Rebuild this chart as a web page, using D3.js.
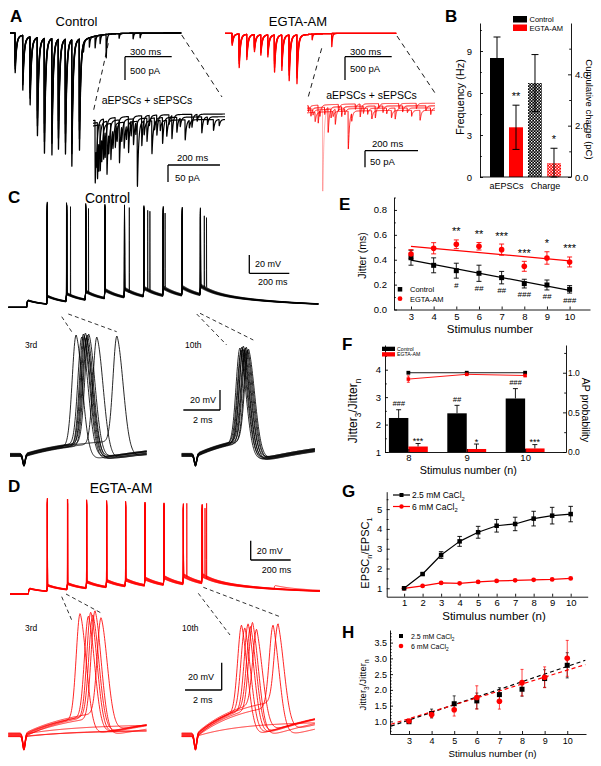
<!DOCTYPE html>
<html>
<head>
<meta charset="utf-8">
<script src="https://cdn.jsdelivr.net/npm/d3@7/dist/d3.min.js"></script>
<style>
html,body{margin:0;padding:0;background:#fff;}
svg{display:block;}
</style>
</head>
<body>
<script>
// ======================= DATA =======================
// ---- Panel A : evoked EPSC trains (stimulus times in ms, peak amplitudes in pA)
const aCtrlStimMs = [32, 81, 128, 175, 220, 268, 310, 355, 396, 445];
const aCtrlAmpPa  = [829, 1150, 1435, 2077, 2435, 2469, 2328, 2435, 2683, 2355];
const aEgtaStimMs = [45, 90, 139, 188, 229, 274, 317, 364, 411, 461];
const aEgtaAmpPa  = [250, 715, 535, 358, 428, 465, 785, 750, 970, 1036];
const aCtrlSweepGain = [1.0, 0.9, 0.82, 0.74];
const aEgtaSweepGain = [1.0, 0.88, 0.78, 0.7];
const aCtrlAsync = [[471,150],[509,200],[546,250],[578,180],[617,500],[700,100],[790,120],[835,100]];
const aEgtaAsync = [[559,120],[685,280]];
// insets: [time ms, amplitude pA]
const aCtrlInsetEvents = [[7.7,185],[16.5,165],[27,135],[40,118],[53,156],[68,106],[85,88],[101,126],
  [119,76],[136,106],[155,76],[170,191],[187,88],[207,68],[226,97],[245,59],[267,76],[283,47],
  [303,68],[322,44],[354,59],[380,38],[418,47],[463,32]];
const aCtrlInsetSmall = [[12,60],[22,90],[33,70],[46,80],[60,60],[76,55],[92,50],[110,45],[128,40],
  [146,45],[164,35],[196,40],[216,30],[236,35],[258,30],[292,28],[335,25],[370,22],[400,20],[440,22],[485,18]];
const aEgtaInsetEvents = [[41.5,54],[79,75],[106,45],[155,114],[200,39],[257,36],[332,33],[426,30]];
const aEgtaInsetFaint = [[58.5,249]];
const aEgtaInsetSmall = [[5,18],[14,25],[22,15],[30,28],[48,20],[66,22],[90,26],[98,15],[118,20],[130,30],
  [142,18],[168,24],[182,16],[212,22],[228,18],[244,25],[270,14],[286,20],[300,17],[318,22],[346,15],
  [360,19],[378,14],[394,18],[412,16],[448,15],[466,20]];
const aCtrlInsetOffsetPa = [8, 0, -8];
const aEgtaInsetOffsetPa = [10, 3, -4, -11];

// ---- Panel B
const bGroups = ["aEPSCs", "Charge"];
const bConditions = ["Control", "EGTA-AM"];
const bFreqHz = [8.5, 3.55];
const bFreqErr = [1.5, 1.58];
const bChargePc = [3.66, 0.54];
const bChargeErr = [1.11, 0.58];
const bSig = [["", "**"], ["", "*"]];
const bFreqTicks = [0, 3, 6, 9];
const bFreqMinor = [1.5, 4.5, 7.5, 10.5];
const bChargeTicks = [0, 2, 4];
const bChargeMinor = [1, 3, 5];

// ---- Panel C / D : current-clamp trains (ms, mV above rest)
const cStimMs = [92, 192, 288, 384, 480, 578, 675, 772, 867, 958];
const cEpspMv = [8, 9, 9, 9.5, 9.5, 9.5, 9.5, 9, 9, 10];
const cSweepGain = [1.00, 0.94, 1.06, 0.97, 1.03, 0.91, 1.09, 0.99, 1.02, 0.96];
const cSpikePeakMv = [116, 112, 109, 114, 106, 115, 104, 111, 108, 113];
const cDoublets = [[0,2,23],[3,3,17],[5,5,27],[1,6,22],[7,6,33],[2,7,12],[4,9,22],[6,9,33]];
const cFails = [];
const c3rdLatMs = [2.96, 3.27, 3.36, 3.41, 3.47, 3.52, 3.57, 3.65, 4.09, 5.18];
const c10thLatMs = [2.55, 2.62, 2.66, 2.72, 2.74, 2.81, 2.85, 2.90, 2.97, 3.02];
const cInsetBaseMv = [0, 1.2, -1, 0.6, -0.6, 1.6, -1.5, 0.9, -0.9, 0.3];
const c3rdEpspMv = [17, 17, 17, 17, 17, 17, 17, 17, 17, 17];
const c10thEpspMv = [22, 22, 22, 22, 22, 22, 22, 22, 22, 22];

const dStimMs = [92, 184, 284, 380, 480, 575, 672, 767, 864, 958];
const dEpspMv = [6, 6.5, 6.5, 7, 7, 7, 7.5, 8, 9, 8];
const dSweepGain = [1.0, 0.92, 1.08, 0.95, 1.05, 0.9, 1.1, 0.97, 1.03];
const dSpikePeakMv = [100, 97, 95, 99, 96, 100, 94, 98, 96];
const dDoublets = [[0,8,20],[2,9,17],[5,9,25]];
const dFails = [[6,2],[7,2],[8,2],[8,9]];
const dSpont = [[3, 1320, 4]];
const d3rdLatMs = [3.18, 3.63, 3.76, 3.87, 3.99, 4.32, null, null, null];
const d10thLatMs = [2.64, 2.82, 3.00, 3.13, 3.24, 3.46, 4.36, 4.63, null];
const dInsetBaseMv = [0, 1, -1, 0.5, -0.5, 1.5, -1.2, 0.8, -0.8];
const d3rdEpspMv = [20, 19, 21, 20, 18, 20, 5, 7, 4];
const d10thEpspMv = [30, 29, 31, 30, 28, 30, 27, 29, 10.5];
const insetPeakJitMv = [0, -2, 1, -1, 2, -3, 0, 1, -2, -1];

// ---- Panel E
const eStimulus = [3, 4, 5, 6, 7, 8, 9, 10];
const eJitCtrl = [0.416, 0.355, 0.312, 0.291, 0.256, 0.208, 0.197, 0.162];
const eJitCtrlErr = [0.06, 0.06, 0.06, 0.065, 0.05, 0.035, 0.04, 0.03];
const eJitEgta = [0.446, 0.492, 0.524, 0.508, 0.481, 0.347, 0.414, 0.382];
const eJitEgtaErr = [0.035, 0.045, 0.035, 0.03, 0.045, 0.04, 0.05, 0.04];
const eStars = ["", "", "**", "**", "***", "***", "*", "***"];
const eHashes = ["", "", "#", "##", "##", "###", "##", "###"];
const eYTicks = [0, 0.2, 0.4, 0.6, 0.8];
const eYMinor = [0.1, 0.3, 0.5, 0.7, 0.9];

// ---- Panel F
const fStimulus = [8, 9, 10];
const fRatioCtrl = [2.24, 2.41, 2.95];
const fRatioCtrlErr = [0.30, 0.29, 0.36];
const fRatioEgta = [1.20, 1.11, 1.13];
const fRatioEgtaErr = [0.11, 0.18, 0.14];
const fCtrlSig = ["###", "##", "###"];
const fEgtaSig = ["***", "*", "***"];
const fApCtrl = [1.0, 1.0, 1.0];
const fApEgta = [0.92, 0.98, 0.965];
const fApEgtaErr = [0.04, 0.01, 0.015];
const fYTicks = [1, 2, 3, 4];
const fYMinor = [1.5, 2.5, 3.5, 4.5];
const fY2Ticks = [0, 0.5, 1.0];
const fY2Minor = [0.25, 0.75, 1.25];

// ---- Panel G
const gStimulus = [1, 2, 3, 4, 5, 6, 7, 8, 9, 10];
const gLowCa = [1.0, 1.72, 2.68, 3.37, 3.83, 4.16, 4.25, 4.52, 4.67, 4.75];
const gLowCaErr = [0, 0.05, 0.17, 0.25, 0.3, 0.32, 0.34, 0.37, 0.42, 0.39];
const gHighCa = [1.0, 1.12, 1.27, 1.25, 1.32, 1.37, 1.40, 1.43, 1.45, 1.50];
const gHighCaErr = [0, 0.02, 0.03, 0.03, 0.03, 0.03, 0.03, 0.03, 0.03, 0.04];
const gYTicks = [1, 2, 3, 4, 5];
const gYMinor = [1.5, 2.5, 3.5, 4.5, 5.5];

// ---- Panel H
const hStimulus = [3, 4, 5, 6, 7, 8, 9, 10];
const hLowCa = [0.99, 1.25, 1.56, 1.65, 1.85, 2.02, 2.36, 2.78];
const hLowCaErr = [0.03, 0.14, 0.25, 0.25, 0.22, 0.22, 0.28, 0.4];
const hHighCa = [1.01, 1.22, 1.37, 1.76, 1.64, 2.23, 2.40, 3.0];
const hHighCaErr = [0.03, 0.1, 0.2, 0.37, 0.25, 0.42, 0.33, 0.57];
const hFitSlope = [0.243, 0.22];       // [2.5 mM, 6 mM]
const hFitIntercept = [0.315, 0.426];
const hYTicks = [1.0, 1.5, 2.0, 2.5, 3.0, 3.5];
const hYMinor = [0.7,0.8,0.9,1.1,1.2,1.3,1.4,1.6,1.7,1.8,1.9,2.1,2.2,2.3,2.4,2.6,2.7,2.8,2.9,3.1,3.2,3.3,3.4,3.6,3.7,3.8];

// ======================= SETUP =======================
const FONT = "Arial, 'Liberation Sans', Helvetica, sans-serif";
const RED = "#ff0000";
const svg = d3.select("body").append("svg").attr("width", 601).attr("height", 766)
  .attr("font-family", FONT);
const defs = svg.append("defs");
const lineGen = d3.line();
const fmtInt = d3.format("d");

function addText(x, y, s, fs, o = {}) {
  const t = svg.append("text").attr("x", x).attr("y", y).attr("font-size", fs).text(s);
  if (o.anchor) t.attr("text-anchor", o.anchor);
  if (o.weight) t.attr("font-weight", o.weight);
  if (o.style) t.attr("font-style", o.style);
  if (o.rotate) t.attr("transform", `rotate(${o.rotate},${x},${y})`);
  t.attr("fill", o.fill || "#000");
  return t;
}
function rich(x, y, parts, fs, o = {}) {
  const t = svg.append("text").attr("x", x).attr("y", y).attr("font-size", fs)
    .attr("text-anchor", o.anchor || "start").attr("fill", "#000");
  if (o.rotate) t.attr("transform", `rotate(${o.rotate},${x},${y})`);
  let prev = false;
  parts.forEach(([s, sub]) => {
    const sp = t.append("tspan").text(s);
    if (sub) sp.attr("font-size", fs * 0.68);
    if (sub && !prev) sp.attr("dy", fs * 0.3);
    if (!sub && prev) sp.attr("dy", -fs * 0.3);
    prev = sub;
  });
  return t;
}
function seg(x1, y1, x2, y2, color = "#000", w = 1, dash = null, op = 1) {
  const l = svg.append("line").attr("x1", x1).attr("y1", y1).attr("x2", x2).attr("y2", y2)
    .attr("stroke", color).attr("stroke-width", w).attr("opacity", op);
  if (dash) l.attr("stroke-dasharray", dash);
  return l;
}
function drawAxis(gen, transform, fs) {
  const g = svg.append("g").attr("transform", transform).call(gen);
  g.attr("font-family", FONT);
  g.selectAll("text").attr("font-size", fs).attr("fill", "#000");
  g.selectAll("line,path").attr("stroke", "#000").attr("stroke-width", 0.9);
  return g;
}
function drawMinor(gen, transform) {
  const g = svg.append("g").attr("transform", transform).call(gen.tickFormat(() => ""));
  g.select(".domain").remove();
  g.selectAll("line").attr("stroke", "#000").attr("stroke-width", 0.9);
}
function errBar(cx, yLo, yHi, cap, color = "#000", w = 0.9, op = 1) {
  seg(cx, yLo, cx, yHi, color, w, null, op);
  seg(cx - cap / 2, yHi, cx + cap / 2, yHi, color, w, null, op);
  seg(cx - cap / 2, yLo, cx + cap / 2, yLo, color, w, null, op);
}
function square(cx, cy, s, color) {
  svg.append("rect").attr("x", cx - s / 2).attr("y", cy - s / 2).attr("width", s).attr("height", s).attr("fill", color);
}
function circle(cx, cy, r, color) {
  svg.append("circle").attr("cx", cx).attr("cy", cy).attr("r", r).attr("fill", color);
}
function tracePath(pts, color, w, op = 1) {
  svg.append("path").attr("d", lineGen(pts)).attr("fill", "none").attr("stroke", color)
    .attr("stroke-width", w).attr("stroke-linejoin", "round").attr("opacity", op);
}
function linReg(xs, ys) {
  const mx = d3.mean(xs), my = d3.mean(ys);
  let sxy = 0, sxx = 0;
  xs.forEach((x, i) => { sxy += (x - mx) * (ys[i] - my); sxx += (x - mx) ** 2; });
  const b = sxy / sxx;
  return { b, a: my - b * mx };
}
function biexp(tr, td) {
  const tp = tr * td / (td - tr) * Math.log(td / tr);
  const pk = Math.exp(-tp / td) - Math.exp(-tp / tr);
  return s => (s <= 0 ? 0 : (Math.exp(-s / td) - Math.exp(-s / tr)) / pk);
}
const kFast = biexp(0.4, 8), kSlow = biexp(4, 90), kSp = biexp(0.35, 4.5);
function apG(s) { return s < 0 ? Math.exp(-((s / 0.3) ** 2)) : Math.exp(-((s / 0.5) ** 2)); }
function epspK(s) { return s <= 0 ? 0 : (1 - Math.exp(-s / 2)) * (0.6 * Math.exp(-s / 70) + 0.4 * Math.exp(-s / 400)); }

// ======================= PANEL A =======================
addText(10, 22, "A", 17, { weight: "bold" });
addText(76.5, 26.3, "Control", 13, { anchor: "middle" });
addText(298, 26.3, "EGTA-AM", 13, { anchor: "middle" });

const aTimes = d3.range(0, 1100.001, 0.25);
function aMainI(t, stims, amps, gain, slowAmp, asyncEv) {
  let I = 0;
  for (let i = 0; i < stims.length; i++) {
    const s = t - stims[i];
    if (s > 0) I -= amps[i] * gain * kFast(s) + slowAmp * kSlow(s);
  }
  for (const ev of asyncEv) { const s = t - ev[0]; if (s > 0 && s < 80) I -= ev[1] * kSp(s); }
  return I;
}
function drawATrain(stims, amps, gains, slowAmp, asyncEv, xs, ys, color) {
  gains.forEach((g, sw) => {
    const ev = asyncEv.filter((e, i) => i % gains.length === sw);
    tracePath(aTimes.map(t => [xs(t), ys(aMainI(t, stims, amps, g, slowAmp, ev))]), color, 1.3);
  });
}
const xAc = d3.scaleLinear().domain([0, 1100]).range([10, 10 + 1100 * 0.1557]);
const yAc = d3.scaleLinear().domain([0, -3000]).range([33, 33 + 3000 * 0.0467]);
drawATrain(aCtrlStimMs, aCtrlAmpPa, aCtrlSweepGain, 70, aCtrlAsync, xAc, yAc, "#000");
const xAe = d3.scaleLinear().domain([0, 1100]).range([225, 225 + 1100 * 0.1557]);
const yAe = d3.scaleLinear().domain([0, -3000]).range([33.3, 33.3 + 3000 * 0.0467]);
drawATrain(aEgtaStimMs, aEgtaAmpPa, aEgtaSweepGain, 20, aEgtaAsync, xAe, yAe, RED);

function insetI(t, events, offset, residual) {
  let I = offset - residual * Math.exp(-t / 150);
  for (const ev of events) { const s = t - ev[0]; if (s > 0 && s < 60) I -= ev[1] * kSp(s); }
  return I;
}
const xAci = d3.scaleLinear().domain([0, 508]).range([93, 225]);
const yAci = d3.scaleLinear().domain([0, -200]).range([116.5, 184.5]);
const tAci = d3.range(0, 508.001, 0.25);
aCtrlInsetOffsetPa.forEach((off, sw) => {
  const ev = aCtrlInsetEvents.filter((e, i) => i % 3 === sw).concat(aCtrlInsetSmall.filter((e, i) => i % 3 === sw));
  tracePath(tAci.map(t => [xAci(t), yAci(insetI(t, ev, off, 20))]), "#000", 1.2);
});
const xAei = d3.scaleLinear().domain([0, 483]).range([307, 435]);
const yAei = d3.scaleLinear().domain([0, -200]).range([106.5, 173.1]);
const tAei = d3.range(0, 483.001, 0.25);
tracePath(tAei.map(t => [xAei(t), yAei(insetI(t, aEgtaInsetFaint, 0, 8))]), RED, 0.9, 0.35);
aEgtaInsetOffsetPa.forEach((off, sw) => {
  const ev = aEgtaInsetEvents.filter((e, i) => i % 4 === sw).concat(aEgtaInsetSmall.filter((e, i) => i % 4 === sw));
  tracePath(tAei.map(t => [xAei(t), yAei(insetI(t, ev, off, 8))]), RED, 1.0, 0.9);
});

// A annotations
addText(147, 103.5, "aEPSCs + sEPSCs", 10.5, { anchor: "middle" });
addText(371.5, 98.5, "aEPSCs + sEPSCs", 10.5, { anchor: "middle" });
function scaleBar(x0, y0, lenX, lenY, tX, tY, labX, labY, fs) {
  seg(x0, y0, x0 + lenX, y0, "#000", 1.3);
  seg(x0, y0, x0, y0 + lenY, "#000", 1.3);
  addText(labX[0], labX[1], tX, fs);
  addText(labY[0], labY[1], tY, fs);
}
scaleBar(125, 56.7, xAc(300) - xAc(0), yAc(-500) - yAc(0), "300 ms", "500 pA", [130, 55], [130, 73.5], 9.5);
scaleBar(345, 56.7, xAe(300) - xAe(0), yAe(-500) - yAe(0), "300 ms", "500 pA", [350, 55], [350, 71.5], 9.5);
scaleBar(168, 165, xAci(200) - xAci(0), yAci(-50) - yAci(0), "200 ms", "50 pA", [177, 161], [175, 180.5], 9.5);
scaleBar(365, 150.7, xAei(200) - xAei(0), yAei(-50) - yAei(0), "200 ms", "50 pA", [372, 146.5], [370, 165], 9.5);
const aConnectors = [[108.3, 43.3, 93.3, 111.7], [181.7, 35, 222, 97], [321.7, 48.3, 308.3, 96.7], [397, 36, 435, 93]];
aConnectors.forEach(c => seg(c[0], c[1], c[2], c[3], "#000", 0.9, "5,4"));

// ======================= PANEL B =======================
addText(445, 22.3, "B", 17, { weight: "bold" });
function checker(id, bg) {
  const p = defs.append("pattern").attr("id", id).attr("width", 3).attr("height", 3).attr("patternUnits", "userSpaceOnUse");
  p.append("rect").attr("width", 3).attr("height", 3).attr("fill", bg);
  p.append("rect").attr("x", 0).attr("y", 0).attr("width", 1.3).attr("height", 1.3).attr("fill", "#fff");
  p.append("rect").attr("x", 1.5).attr("y", 1.5).attr("width", 1.3).attr("height", 1.3).attr("fill", "#fff");
}
checker("chkK", "#000");
checker("chkR", RED);
const bYf = d3.scaleLinear().domain([0, 11]).range([177, 23]);
const bYc = d3.scaleLinear().domain([0, 6]).range([177, 23]);
const bKeys = bGroups.flatMap(g => bConditions.map(c => g + "|" + c));
const bX = d3.scaleBand().domain(bKeys).range([490, 561]).paddingInner(0.263);
const bBars = [];
bGroups.forEach((g, gi) => bConditions.forEach((c, ci) => {
  bBars.push({ key: g + "|" + c, gi, ci,
    val: gi === 0 ? bFreqHz[ci] : bChargePc[ci],
    err: gi === 0 ? bFreqErr[ci] : bChargeErr[ci],
    y: gi === 0 ? bYf : bYc, sig: bSig[gi][ci] });
}));
bBars.forEach(d => {
  const fill = d.gi === 0 ? (d.ci === 0 ? "#000" : RED) : (d.ci === 0 ? "url(#chkK)" : "url(#chkR)");
  svg.append("rect").attr("x", bX(d.key)).attr("width", bX.bandwidth())
    .attr("y", d.y(d.val)).attr("height", d.y(0) - d.y(d.val)).attr("fill", fill);
});
bBars.forEach(d => {
  const cx = bX(d.key) + bX.bandwidth() / 2;
  const yHi = d.y(d.val + d.err), yLo = d.y(Math.max(0, d.val - d.err));
  errBar(cx, yLo, yHi, 7, "#000", 1);
  if (d.sig) addText(cx, yHi - 5, d.sig, 11, { anchor: "middle" });
});
bGroups.forEach((g, gi) => {
  const c0 = bX(g + "|" + bConditions[0]), c1 = bX(g + "|" + bConditions[1]) + bX.bandwidth();
  addText((c0 + c1) / 2 + (gi ? 1 : 0), 188.5, g, 9, { anchor: "middle" });
});
drawAxis(d3.axisLeft(bYf).tickValues(bFreqTicks).tickSize(-3).tickSizeOuter(0).tickPadding(8), "translate(480,0)", 9.5);
drawMinor(d3.axisLeft(bYf).tickValues(bFreqMinor).tickSize(-1.8), "translate(480,0)");
drawAxis(d3.axisRight(bYc).tickValues(bChargeTicks).tickSize(-3).tickSizeOuter(0).tickPadding(4), "translate(571,0)", 9.5);
drawMinor(d3.axisRight(bYc).tickValues(bChargeMinor).tickSize(-1.8), "translate(571,0)");
seg(480, 177, 571, 177, "#000", 0.9);
addText(464, 97, "Frequency (Hz)", 11, { anchor: "middle", rotate: -90 });
addText(585.7, 109.5, "Cumulative charge (pC)", 9.5, { anchor: "middle", rotate: 90 });
svg.append("rect").attr("x", 513).attr("y", 16).attr("width", 14).attr("height", 6.5).attr("fill", "#000");
svg.append("rect").attr("x", 513).attr("y", 24.5).attr("width", 14).attr("height", 6.5).attr("fill", RED);
addText(529.5, 22, bConditions[0], 7.5);
addText(529.5, 30.5, bConditions[1], 7.5);

// ======================= PANELS C & D (traces) =======================
function buildSpikes(stims, nSw, firstSpike, latFn, peaks, doublets, fails) {
  const out = [];
  for (let sw = 0; sw < nSw; sw++) {
    const arr = [];
    stims.forEach((st, i) => {
      if (i < firstSpike) return;
      if (fails.some(f => f[0] === sw && f[1] === i)) return;
      arr.push([st + latFn(sw, i), peaks[sw] - i * 0.8]);
    });
    doublets.filter(d => d[0] === sw).forEach(d => arr.push([stims[d[1]] + d[2], peaks[sw] - 6]));
    out.push(arr);
  }
  return out;
}
function mainTimes(stims, spikes, tEnd) {
  const ts = d3.range(0, tEnd + 0.001, 2);
  stims.forEach(s => [0.3, 0.7, 1.2, 2, 3, 4.5, 7, 10].forEach(o => ts.push(s + o)));
  spikes.forEach(sp => [-1, -0.6, -0.35, -0.15, 0, 0.15, 0.35, 0.6, 0.9, 1.3, 2].forEach(o => ts.push(sp[0] + o)));
  return Array.from(new Set(ts.map(t => +t.toFixed(3)))).filter(t => t >= 0 && t <= tEnd).sort((a, b) => a - b);
}
function mainV(t, stims, amps, gain, spikes, spont) {
  let v = 0;
  for (let i = 0; i < stims.length; i++) v += amps[i] * gain * epspK(t - stims[i]);
  for (const sp of spont) v += sp[1] * epspK(t - sp[0]);
  const sub = v;
  for (const sp of spikes) { const s = t - sp[0]; if (s > -2 && s < 4) v += (sp[1] - sub) * apG(s); }
  return v;
}
function drawMain(stims, amps, gains, peaks, firstSpike, latFn, doublets, fails, spontAll, xs, ys, color) {
  const spikes = buildSpikes(stims, gains.length, firstSpike, latFn, peaks, doublets, fails);
  gains.forEach((g, sw) => {
    const spont = spontAll.filter(s => s[0] === sw).map(s => [s[1], s[2]]);
    const ts = mainTimes(stims, spikes[sw], 1550);
    tracePath(ts.map(t => [xs(t), ys(mainV(t, stims, amps, g, spikes[sw], spont))]), color, 0.8);
  });
}
function insetV(t, p, sw) {
  const base = p.base[sw];
  const art = -10 * Math.exp(-(((t - 0.12) / 0.09) ** 2));
  const ep = t > 0.2 ? p.epsp[sw] * (1 - Math.exp(-(t - 0.2) / p.tau)) : 0;
  let v = base + art + ep;
  const lat = p.lat[sw];
  if (lat != null) {
    const s = t - lat;
    v += (p.peak + insetPeakJitMv[sw] - (base + ep)) * apG(s);
    if (s > 0) v -= p.ahp * (1 - Math.exp(-s / 0.4)) * Math.exp(-s / 8);
  }
  return v;
}
function drawInset(p, xs, ys, color) {
  const ts = d3.range(xs.domain()[0], xs.domain()[1] + 0.0001, 0.02);
  p.lat.forEach((l, sw) => tracePath(ts.map(t => [xs(t), ys(insetV(t, p, sw))]), color, 0.85));
}

// ---- C
addText(8, 203.3, "C", 17, { weight: "bold" });
addText(107.5, 203.3, "Control", 14, { anchor: "middle" });
const xC = d3.scaleLinear().domain([0, 1550]).range([8.3, 318.3]);
const yC = d3.scaleLinear().domain([0, 120]).range([307.3, 307.3 - 120 * 0.915]);
drawMain(cStimMs, cEpspMv, cSweepGain, cSpikePeakMv, 1,
  (sw, i) => (i === 2 ? c3rdLatMs[sw] : i === 9 ? c10thLatMs[sw] : 3), cDoublets, cFails, [], xC, yC, "#000");
scaleBar(249.3, 273.3, xC(200) - xC(0), yC(20) - yC(0), "200 ms", "20 mV", [258, 284.5], [255, 267], 9);
const x3C = d3.scaleLinear().domain([-0.64, 6.8]).range([10, 146.7]);
const y3C = d3.scaleLinear().domain([0, 130]).range([455, 325]);
drawInset({ base: cInsetBaseMv, epsp: c3rdEpspMv, tau: 3, lat: c3rdLatMs, peak: 120, ahp: 19 }, x3C, y3C, "#000");
const x10C = d3.scaleLinear().domain([-0.63, 6.64]).range([181.7, 315]);
const y10C = d3.scaleLinear().domain([0, 130]).range([455, 325]);
drawInset({ base: cInsetBaseMv, epsp: c10thEpspMv, tau: 2.5, lat: c10thLatMs, peak: 107, ahp: 25 }, x10C, y10C, "#000");
(function () {
  const x1 = 220, y1 = 410, w = x10C(2) - x10C(0), h = y10C(0) - y10C(20);
  seg(x1 - w, y1, x1, y1, "#000", 1.3); seg(x1, y1, x1, y1 - h, "#000", 1.3);
  addText(190, 403, "20 mV", 9); addText(193, 423, "2 ms", 9);
})();
addText(25, 348, "3rd", 8.5);
addText(185, 348, "10th", 8.5);
const cConnectors = [[61.7, 316.7, 71.7, 331.7], [68.3, 314, 116.7, 331.7], [196.7, 314, 226.7, 345], [200, 313.3, 253.3, 340]];
cConnectors.forEach(c => seg(c[0], c[1], c[2], c[3], "#000", 0.8, "4,3"));

// ---- D
addText(8, 491.7, "D", 17, { weight: "bold" });
addText(121, 493, "EGTA-AM", 14, { anchor: "middle" });
const xD = d3.scaleLinear().domain([0, 1550]).range([10, 320]);
const yD = d3.scaleLinear().domain([0, 120]).range([594, 594 - 120 * 0.965]);
drawMain(dStimMs, dEpspMv, dSweepGain, dSpikePeakMv, 1,
  (sw, i) => (i === 2 ? (d3rdLatMs[sw] || 3.5) : i === 9 ? (d10thLatMs[sw] || 3) : 3), dDoublets, dFails, dSpont, xD, yD, RED);
scaleBar(250.7, 560, xD(200) - xD(0), yD(20) - yD(0), "200 ms", "20 mV", [261.7, 572.5], [256.7, 553.5], 9);
const x3D = d3.scaleLinear().domain([-0.73, 6.8]).range([8.3, 146.7]);
const y3D = d3.scaleLinear().domain([0, 100]).range([735, 735 - 136.5]);
drawInset({ base: dInsetBaseMv, epsp: d3rdEpspMv, tau: 3, lat: d3rdLatMs, peak: 89, ahp: 16 }, x3D, y3D, RED);
const x10D = d3.scaleLinear().domain([-0.63, 6.64]).range([181.7, 315]);
const y10D = d3.scaleLinear().domain([0, 100]).range([735, 735 - 136.5]);
drawInset({ base: dInsetBaseMv, epsp: d10thEpspMv, tau: 2.5, lat: d10thLatMs, peak: 80.5, ahp: 26 }, x10D, y10D, RED);
(function () {
  const x1 = 221.7, y1 = 690, w = x10D(2) - x10D(0), h = y10D(0) - y10D(20);
  seg(x1 - w, y1, x1, y1, "#000", 1.3); seg(x1, y1, x1, y1 - h, "#000", 1.3);
  addText(188, 680, "20 mV", 9); addText(193, 703, "2 ms", 9);
})();
addText(25, 631, "3rd", 8.5);
addText(182, 631, "10th", 8.5);
const dConnectors = [[61.7, 596.7, 71.7, 620], [66, 594, 101.7, 613.3], [198.3, 593.3, 230, 635], [203.3, 587.3, 280, 616.7]];
dConnectors.forEach(c => seg(c[0], c[1], c[2], c[3], "#000", 0.8, "4,3"));

// ======================= PANEL E =======================
addText(339, 210, "E", 17, { weight: "bold" });
const eX = d3.scaleLinear().domain([2.25, 10.9]).range([394, 590]);
const eY = d3.scaleLinear().domain([0, 0.9]).range([309.5, 197.5]);
drawAxis(d3.axisBottom(eX).tickValues(eStimulus).tickFormat(fmtInt).tickSize(-3).tickSizeOuter(0).tickPadding(3.5), `translate(0,${eY(0)})`, 9.5);
drawAxis(d3.axisLeft(eY).tickValues(eYTicks).tickFormat(d3.format(".1f")).tickSize(-3).tickSizeOuter(0).tickPadding(7), `translate(${eX.range()[0]},0)`, 9.5);
drawMinor(d3.axisLeft(eY).tickValues(eYMinor).tickSize(-1.8), `translate(${eX.range()[0]},0)`);
[[eJitCtrl, "#000"], [eJitEgta, RED]].forEach(([ys, col]) => {
  const f = linReg(eStimulus, ys);
  seg(eX(3), eY(f.a + f.b * 3), eX(10), eY(f.a + f.b * 10), col, 1.2);
});
eStimulus.forEach((s, i) => {
  errBar(eX(s), eY(eJitCtrl[i] - eJitCtrlErr[i]), eY(eJitCtrl[i] + eJitCtrlErr[i]), 5, "#000");
  errBar(eX(s), eY(eJitEgta[i] - eJitEgtaErr[i]), eY(eJitEgta[i] + eJitEgtaErr[i]), 5, RED);
});
eStimulus.forEach((s, i) => {
  square(eX(s), eY(eJitCtrl[i]), 5, "#000");
  circle(eX(s), eY(eJitEgta[i]), 2.8, RED);
  if (eStars[i]) addText(eX(s), eY(eJitEgta[i] + eJitEgtaErr[i]) - 4.5, eStars[i], 11, { anchor: "middle" });
  if (eHashes[i]) addText(eX(s), eY(eJitCtrl[i] - eJitCtrlErr[i]) + 9.5, eHashes[i], 8, { anchor: "middle", style: "italic" });
});
square(400, 289.3, 4.5, "#000"); circle(400, 298.7, 2.4, RED);
addText(410, 292, "Control", 7.5);
addText(410, 301.5, "EGTA-AM", 7.5);
addText(490, 333, "Stimulus number", 11.5, { anchor: "middle" });
addText(365.7, 255.5, "Jitter (ms)", 10.5, { anchor: "middle", rotate: -90 });

// ======================= PANEL F =======================
addText(342, 350, "F", 17, { weight: "bold" });
const fX = d3.scaleLinear().domain([7.6, 10.7]).range([385, 566]);
const fY = d3.scaleLinear().domain([1, 4.9]).range([452, 345]);
const fY2 = d3.scaleLinear().domain([0, 1.35]).range([452, 345]);
const fBarW = 0.333;
fStimulus.forEach((s, i) => {
  svg.append("rect").attr("x", fX(s - fBarW)).attr("width", fX(s) - fX(s - fBarW))
    .attr("y", fY(fRatioCtrl[i])).attr("height", fY(1) - fY(fRatioCtrl[i])).attr("fill", "#000");
  svg.append("rect").attr("x", fX(s)).attr("width", fX(s + fBarW) - fX(s))
    .attr("y", fY(fRatioEgta[i])).attr("height", fY(1) - fY(fRatioEgta[i])).attr("fill", RED);
  const cx1 = fX(s - fBarW / 2), cx2 = fX(s + fBarW / 2);
  const t1 = fY(fRatioCtrl[i] + fRatioCtrlErr[i]), t2 = fY(fRatioEgta[i] + fRatioEgtaErr[i]);
  seg(cx1, fY(fRatioCtrl[i]), cx1, t1, "#000", 0.9); seg(cx1 - 2.5, t1, cx1 + 2.5, t1, "#000", 0.9);
  seg(cx2, fY(fRatioEgta[i]), cx2, t2, "#000", 0.9); seg(cx2 - 2.5, t2, cx2 + 2.5, t2, "#000", 0.9);
  addText(cx1, t1 - 3.5, fCtrlSig[i], 7.5, { anchor: "middle", style: "italic" });
  addText(cx2, t2 + 0.5, fEgtaSig[i], 9, { anchor: "middle" });
});
tracePath(fStimulus.map((s, i) => [fX(s), fY2(fApCtrl[i])]), "#000", 0.9);
tracePath(fStimulus.map((s, i) => [fX(s), fY2(fApEgta[i])]), RED, 0.9);
fStimulus.forEach((s, i) => {
  errBar(fX(s), fY2(fApEgta[i] - fApEgtaErr[i]), fY2(fApEgta[i] + fApEgtaErr[i]), 3, RED, 0.8);
  square(fX(s), fY2(fApCtrl[i]), 3.8, "#000");
  square(fX(s), fY2(fApEgta[i]), 3.5, RED);
});
drawAxis(d3.axisBottom(fX).tickValues(fStimulus).tickFormat(fmtInt).tickSize(-3).tickSizeOuter(0).tickPadding(2.5), `translate(0,${fY(1)})`, 9.5);
drawAxis(d3.axisLeft(fY).tickValues(fYTicks).tickFormat(fmtInt).tickSize(-3).tickSizeOuter(0).tickPadding(4), `translate(${fX.range()[0]},0)`, 9.5);
drawMinor(d3.axisLeft(fY).tickValues(fYMinor).tickSize(-1.8), `translate(${fX.range()[0]},0)`);
drawAxis(d3.axisRight(fY2).tickValues(fY2Ticks).tickFormat(d3.format(".1f")).tickSize(-3).tickSizeOuter(0).tickPadding(2), `translate(${fX.range()[1]},0)`, 8.5);
drawMinor(d3.axisRight(fY2).tickValues(fY2Minor).tickSize(-1.8), `translate(${fX.range()[1]},0)`);
svg.append("rect").attr("x", 382).attr("y", 346.7).attr("width", 13).attr("height", 4.3).attr("fill", "#000");
svg.append("rect").attr("x", 382).attr("y", 352.2).attr("width", 13).attr("height", 4.3).attr("fill", RED);
addText(397, 350.8, "Control", 5.2);
addText(397, 356.3, "EGTA-AM", 5.2);
addText(468.3, 474, "Stimulus number (n)", 10.8, { anchor: "middle" });
rich(357, 411, [["Jitter", 0], ["3", 1], ["/Jitter", 0], ["n", 1]], 12, { anchor: "middle", rotate: -90 });
addText(581.5, 410, "AP probability", 10.5, { anchor: "middle", rotate: 90 });

// ======================= PANEL G =======================
addText(342, 497, "G", 17, { weight: "bold" });
const gX = d3.scaleLinear().domain([0.06, 10.92]).range([386.7, 587.7]);
const gY = d3.scaleLinear().domain([0.575, 5.88]).range([596.7, 491.7]);
drawAxis(d3.axisBottom(gX).tickValues(gStimulus).tickFormat(fmtInt).tickSize(-3).tickSizeOuter(0).tickPadding(2.5), `translate(0,${gY.range()[0]})`, 9.5);
drawAxis(d3.axisLeft(gY).tickValues(gYTicks).tickFormat(fmtInt).tickSize(-3).tickSizeOuter(0).tickPadding(4.5), `translate(${gX.range()[0]},0)`, 9.5);
drawMinor(d3.axisLeft(gY).tickValues(gYMinor).tickSize(-1.8), `translate(${gX.range()[0]},0)`);
tracePath(gStimulus.map((s, i) => [gX(s), gY(gHighCa[i])]), RED, 1.2);
tracePath(gStimulus.map((s, i) => [gX(s), gY(gLowCa[i])]), "#000", 1.2);
gStimulus.forEach((s, i) => {
  if (gLowCaErr[i] > 0) errBar(gX(s), gY(gLowCa[i] - gLowCaErr[i]), gY(gLowCa[i] + gLowCaErr[i]), 4.5, "#000");
  if (gHighCaErr[i] > 0) errBar(gX(s), gY(gHighCa[i] - gHighCaErr[i]), gY(gHighCa[i] + gHighCaErr[i]), 3, RED, 0.8);
  circle(gX(s), gY(gHighCa[i]), 2.4, RED);
  square(gX(s), gY(gLowCa[i]), 4.5, "#000");
});
seg(393, 495, 410, 495, "#000", 1.2); square(401.5, 495, 4, "#000");
seg(393, 506.5, 410, 506.5, RED, 1.2); circle(401.5, 506.5, 2.2, RED);
rich(412, 498, [["2.5 mM CaCl", 0], ["2", 1]], 8.5);
rich(412, 509.5, [["6 mM CaCl", 0], ["2", 1]], 8.5);
addText(494, 620, "Stimulus number (n)", 11.5, { anchor: "middle" });
rich(369, 553, [["EPSC", 0], ["n", 1], ["/EPSC", 0], ["1", 1]], 11, { anchor: "middle", rotate: -90 });

// ======================= PANEL H =======================
addText(342, 638, "H", 17, { weight: "bold" });
const hX = d3.scaleLinear().domain([2.16, 10.83]).range([390, 586]);
const hY = d3.scaleLinear().domain([0.6, 3.9]).range([734, 630]);
drawAxis(d3.axisBottom(hX).tickValues(hStimulus).tickFormat(fmtInt).tickSize(-3).tickSizeOuter(0).tickPadding(3.5), `translate(0,${hY.range()[0]})`, 9);
drawAxis(d3.axisLeft(hY).tickValues(hYTicks).tickFormat(d3.format(".1f")).tickSize(-3).tickSizeOuter(0).tickPadding(3), `translate(${hX.range()[0]},0)`, 9);
drawMinor(d3.axisLeft(hY).tickValues(hYMinor).tickSize(-1.6), `translate(${hX.range()[0]},0)`);
hStimulus.forEach((s, i) => {
  errBar(hX(s), hY(hLowCa[i] - hLowCaErr[i]), hY(hLowCa[i] + hLowCaErr[i]), 3, "#000", 0.9, 0.8);
  errBar(hX(s), hY(hHighCa[i] - hHighCaErr[i]), hY(hHighCa[i] + hHighCaErr[i]), 3, RED, 0.9, 0.8);
});
[["#000", 0], [RED, 1]].forEach(([col, k]) => {
  seg(hX(2.2), hY(hFitIntercept[k] + hFitSlope[k] * 2.2), hX(10.8), hY(hFitIntercept[k] + hFitSlope[k] * 10.8), col, 1.2, "4,3");
});
hStimulus.forEach((s, i) => square(hX(s), hY(hLowCa[i]), 5, "#000"));
hStimulus.forEach((s, i) => circle(hX(s), hY(hHighCa[i]), 2.8, RED));
square(401, 636, 4, "#000"); circle(401, 646, 2.3, RED);
rich(411, 638.5, [["2.5 mM CaCl", 0], ["2", 1]], 7);
rich(411, 648.5, [["6 mM CaCl", 0], ["2", 1]], 7);
addText(492.5, 756.5, "Stimulus number (n)", 9.8, { anchor: "middle" });
rich(366, 685, [["Jitter", 0], ["3", 1], ["/Jitter", 0], ["n", 1]], 9.5, { anchor: "middle", rotate: -90 });
</script>
</body>
</html>
